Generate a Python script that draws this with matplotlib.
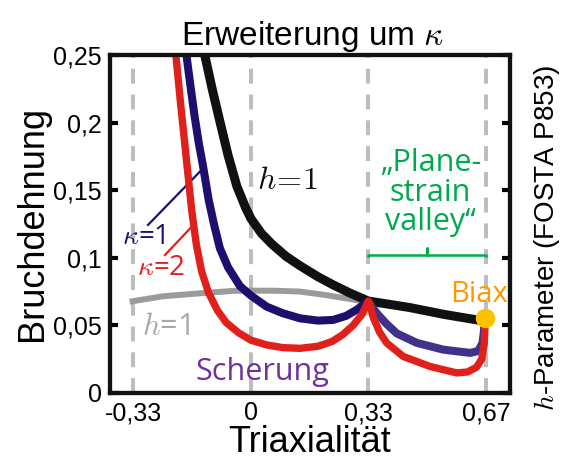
import matplotlib
matplotlib.use("Agg")
import matplotlib.pyplot as plt

plt.rcParams["font.family"] = ["Liberation Sans", "DejaVu Sans"]
plt.rcParams["mathtext.fontset"] = "cm"

# ── Daten
xticks = [-1 / 3, 0, 1 / 3, 2 / 3]
xtick_labels = ["-0,33", "0", "0,33", "0,67"]
yticks = [0, 0.05, 0.1, 0.15, 0.2, 0.25]
ytick_labels = ["0", "0,05", "0,1", "0,15", "0,2", "0,25"]

# h=1 (grau)
gray_x = [-0.344, -0.25, -0.145, -0.05, 0.0, 0.07, 0.139, 0.21, 0.281, 0.333]
gray_y = [0.0675, 0.0715, 0.0737, 0.0755, 0.0757, 0.0756, 0.075, 0.0725, 0.0695, 0.067]

# h=1 (schwarz)
black_x = [-0.131, -0.11, -0.09, -0.065, -0.04, -0.015, 0.0, 0.03, 0.06, 0.10, 0.14,
           0.19, 0.233, 0.28, 0.333, 0.45, 0.55, 0.665]
black_y = [0.25, 0.225, 0.203, 0.176, 0.153, 0.137, 0.129, 0.118, 0.110, 0.101, 0.094,
           0.086, 0.080, 0.074, 0.068, 0.0632, 0.058, 0.053]

# kappa=1
k1_left_x = [-0.183, -0.172, -0.16, -0.148, -0.136, -0.12, -0.105, -0.088, -0.065,
             -0.031, 0.0, 0.045, 0.09, 0.139, 0.19, 0.233, 0.27, 0.30, 0.333]
k1_left_y = [0.25, 0.228, 0.205, 0.185, 0.168, 0.143, 0.125, 0.107, 0.093,
             0.079, 0.072, 0.0638, 0.059, 0.0552, 0.0535, 0.054, 0.057, 0.0615, 0.068]
k1_right_x = [0.333, 0.345, 0.357, 0.385, 0.414, 0.471, 0.546, 0.622, 0.645, 0.657, 0.661, 0.663]
k1_right_y = [0.068, 0.063, 0.059, 0.051, 0.044, 0.037, 0.032, 0.0296, 0.031, 0.037, 0.045, 0.054]

# kappa=2
k2_x = [-0.213, -0.20, -0.19, -0.178, -0.168, -0.155, -0.14, -0.12, -0.095, -0.07,
        -0.035, 0.0, 0.045, 0.09, 0.14, 0.19, 0.23, 0.26, 0.29, 0.315, 0.333,
        0.34, 0.347, 0.365, 0.385, 0.432, 0.509, 0.584, 0.615, 0.64, 0.655, 0.662, 0.664]
k2_y = [0.25, 0.215, 0.19, 0.160, 0.135, 0.110, 0.090, 0.074, 0.061, 0.052,
        0.0445, 0.039, 0.0355, 0.0335, 0.033, 0.0345, 0.038, 0.043, 0.050, 0.058, 0.068,
        0.063, 0.056, 0.045, 0.037, 0.027, 0.0195, 0.0148, 0.0155, 0.019, 0.025, 0.036, 0.048]

biax_x, biax_y = 0.665, 0.0555

# ── Plot
fig = plt.figure(figsize=(5.61, 4.59), dpi=100)
ax = fig.add_axes([0.196, 0.144, 0.713, 0.736])

for xv in xticks:
    ax.axvline(xv, color="#bdbdbd", lw=2.9, dashes=(3.7, 2.7), zorder=1)

line_kw = dict(solid_capstyle="butt", solid_joinstyle="round")
ax.plot(gray_x, gray_y, color="#9b9b9b", lw=4.3, zorder=2, **line_kw)
ax.plot(black_x, black_y, color="#111111", lw=6.5, zorder=3, **line_kw)
ax.plot(k1_left_x, k1_left_y, color="#1e0f6e", lw=5.8, zorder=4, **line_kw)
ax.plot(k1_right_x, k1_right_y, color="#41318b", lw=5.8, zorder=4, **line_kw)
ax.plot(k2_x, k2_y, color="#e0201b", lw=5.3, zorder=5, **line_kw)
ax.plot([biax_x], [biax_y], "o", color="#ffc000", ms=14, mec="none", zorder=6)

# Beschriftungen im Diagramm
sans2 = ["Open Sans", "DejaVu Sans"]
ax.text(0.102, 0.157, r"$h\!=\!1$", fontsize=23, color="#111111", ha="center", va="center")
ax.text(-0.240, 0.049, r"$h$=1", fontsize=22, color="#a8a8a8", ha="center", va="center",
        family=sans2)
ax.plot([-0.292, -0.145], [0.1243, 0.1637], color="#1e0f6e", lw=1.6, zorder=4)
ax.plot([-0.244, -0.168], [0.102, 0.123], color="#e0201b", lw=1.6, zorder=4)
ax.text(-0.304, 0.1154, r"$\kappa$=1", fontsize=20, color="#1e0f6e", ha="center", va="center",
        family=sans2)
ax.text(-0.254, 0.0925, r"$\kappa$=2", fontsize=20, color="#e0201b", ha="center", va="center",
        family=sans2)
ax.text(0.033, 0.0155, "Scherung", fontsize=22, color="#7030a0", ha="center", va="center",
        family=sans2)
ax.text(0.648, 0.073, "Biax", fontsize=21, color="#ff9900", ha="center", va="center",
        family=sans2)
ax.text(0.509, 0.148, "\u201ePlane-\nstrain\nvalley\u201c", fontsize=22, color="#00a850",
        ha="center", va="center", linespacing=0.98, family=sans2)
ax.plot([1 / 3, 1 / 3, 0.5, 0.5, 0.5, 2 / 3, 2 / 3],
        [0.101, 0.102, 0.102, 0.107, 0.102, 0.102, 0.101], color="#00a850", lw=1.8, zorder=4)

# Achsen
ax.set_xlim(-0.40, 0.735)
ax.set_ylim(0, 0.25)
ax.set_xticks(xticks)
ax.set_xticklabels(xtick_labels)
ax.set_yticks(yticks)
ax.set_yticklabels(ytick_labels)
ax.tick_params(axis="x", length=0, labelsize=18, pad=6)
ax.tick_params(axis="y", direction="in", length=6, width=3, labelsize=18, pad=6,
               right=True)
for s in ax.spines.values():
    s.set_linewidth(3.1)
    s.set_color("#111111")
    s.set_zorder(7)

ax.set_xlabel("Triaxialität", fontsize=26, labelpad=0)
ax.set_ylabel("Bruchdehnung", fontsize=26, labelpad=2)
ax.set_title(r"Erweiterung um $\kappa$", fontsize=24, pad=7, x=0.508)
ax.text(1.093, 0.46, r"$h$-Parameter (FOSTA P853)", transform=ax.transAxes, rotation=90,
        fontsize=20, ha="center", va="center")

fig.savefig("out.png", dpi=100)
